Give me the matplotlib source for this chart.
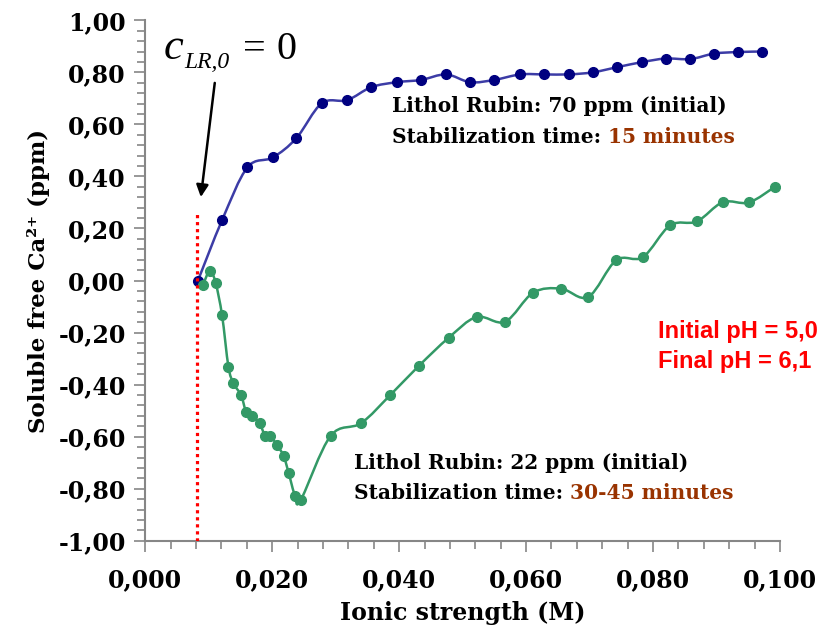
import numpy as np
import matplotlib
matplotlib.use("Agg")
from matplotlib import pyplot as plt
from matplotlib.path import Path
from matplotlib.patches import PathPatch
from matplotlib.ticker import MultipleLocator, FuncFormatter

# Lithol Rubin 70 ppm (blue)
ionic_70 = [0.0083, 0.0121, 0.0161, 0.0201, 0.0238, 0.0278, 0.0318, 0.0356, 0.0396,
            0.0435, 0.0474, 0.0512, 0.0550, 0.0591, 0.0629, 0.0667, 0.0705, 0.0744,
            0.0782, 0.0820, 0.0859, 0.0896, 0.0934, 0.0972]
ca_70 = [0.000, 0.232, 0.435, 0.473, 0.547, 0.681, 0.693, 0.743, 0.762, 0.771, 0.792,
         0.762, 0.771, 0.792, 0.792, 0.792, 0.800, 0.820, 0.839, 0.853, 0.851, 0.872,
         0.878, 0.880]

# Lithol Rubin 22 ppm (green)
ionic_22 = [0.0091, 0.0102, 0.0111, 0.0121, 0.0131, 0.0139, 0.0151, 0.0159, 0.0168,
            0.0180, 0.0189, 0.0197, 0.0207, 0.0218, 0.0226, 0.0236, 0.0245, 0.0292,
            0.0340, 0.0386, 0.0431, 0.0478, 0.0522, 0.0567, 0.0611, 0.0655, 0.0698,
            0.0742, 0.0784, 0.0827, 0.0869, 0.0910, 0.0951, 0.0992]
ca_22 = [-0.016, 0.038, -0.011, -0.134, -0.331, -0.395, -0.441, -0.505, -0.519, -0.548,
         -0.597, -0.597, -0.630, -0.674, -0.740, -0.827, -0.843, -0.597, -0.548, -0.440,
         -0.328, -0.220, -0.140, -0.158, -0.047, -0.031, -0.063, 0.078, 0.090, 0.212,
         0.227, 0.301, 0.300, 0.360]

c_lr0 = 0.0082

plt.rcParams['font.family'] = 'DejaVu Serif'
plt.rcParams['font.weight'] = 'bold'


def smooth_path(xs, ys):
    # excel-like smoothed line: cubic bezier with catmull-rom tangents
    p = np.column_stack([xs, ys])
    n = len(p)
    verts = [p[0]]
    codes = [Path.MOVETO]
    for i in range(n - 1):
        p0 = p[i - 1] if i > 0 else p[i]
        p3 = p[i + 2] if i + 2 < n else p[i + 1]
        c1 = p[i] + (p[i + 1] - p0) / 6.0
        c2 = p[i + 1] - (p3 - p[i]) / 6.0
        verts += [c1, c2, p[i + 1]]
        codes += [Path.CURVE4] * 3
    return Path(verts, codes)


fig = plt.figure(figsize=(8.35, 6.34), dpi=100)
ax = fig.add_axes([0.174, 0.147, 0.760, 0.821])

ax.add_patch(PathPatch(smooth_path(ionic_70, ca_70), fill=False, edgecolor='#3c3ca6', lw=1.8, zorder=2))
ax.plot(ionic_70, ca_70, 'o', color='#000080', ms=7, zorder=3)
ax.add_patch(PathPatch(smooth_path(ionic_22, ca_22), fill=False, edgecolor='#339966', lw=1.8, zorder=2))
ax.plot(ionic_22, ca_22, 'o', color='#339966', ms=7, zorder=3)

ax.plot([c_lr0, c_lr0], [-1.0, 0.26], ls=(0, (1, 1.2)), color='#ff0000', lw=2.3, zorder=4)

ax.set_xlim(0, 0.1)
ax.set_ylim(-1.0, 1.0)
ax.xaxis.set_major_locator(MultipleLocator(0.02))
ax.xaxis.set_minor_locator(MultipleLocator(0.004))
ax.yaxis.set_major_locator(MultipleLocator(0.2))
ax.yaxis.set_minor_locator(MultipleLocator(0.04))
ax.xaxis.set_major_formatter(FuncFormatter(lambda v, p: f"{v:.3f}".replace('.', ',')))
ax.yaxis.set_major_formatter(FuncFormatter(lambda v, p: f"{v:.2f}".replace('.', ',').replace('-0,00', '0,00')))

for s in ['top', 'right']:
    ax.spines[s].set_visible(False)
for s in ['left', 'bottom']:
    ax.spines[s].set_color('#868686')
    ax.spines[s].set_linewidth(1.5)
ax.tick_params(which='both', direction='out', color='#868686', width=1.2)
ax.tick_params(which='major', length=8, labelsize=17, pad=6)
ax.tick_params(which='minor', length=6)
ax.tick_params(axis='x', pad=12)

ax.set_xlabel('Ionic strength (M)', fontsize=17, fontweight='bold', labelpad=6)
ax.set_ylabel('Soluble free Ca²⁺ (ppm)', fontsize=16.5, fontweight='bold',
              family=['DejaVu Serif', 'DejaVu Sans'], labelpad=6)

# annotations
t1 = ax.text(0.0389, 0.67, 'Lithol Rubin: 70 ppm (initial)', fontsize=14.5, va='center')
t2 = ax.text(0.0389, 0.515, 'Stabilization time: ', fontsize=14.5, va='bottom')
ax.annotate('15 minutes', xy=(1, 0), xycoords=t2, va='bottom', fontsize=14.5, color='#993300')
t3 = ax.text(0.0329, -0.70, 'Lithol Rubin: 22 ppm (initial)', fontsize=14.5, va='center')
t4 = ax.text(0.0329, -0.855, 'Stabilization time: ', fontsize=14.5, va='bottom')
ax.annotate('30-45 minutes', xy=(1, 0), xycoords=t4, va='bottom', fontsize=14.5, color='#993300')

ax.text(0.0808, -0.195, 'Initial pH = 5,0', ha='left', va='center',
        fontsize=17, family='Liberation Sans', fontweight='bold', color='#ff0000')
ax.text(0.0808, -0.31, 'Final pH = 6,1', ha='left', va='center',
        fontsize=17, family='Liberation Sans', fontweight='bold', color='#ff0000')

# c_LR,0 = 0 label, built from pieces (times-like, not bold)
serif = dict(family='Liberation Serif', fontweight='normal', va='baseline')
fig.text(164 / 835, 1 - 59 / 634, 'c', fontsize=32, style='italic', **serif)
fig.text(184 / 835, 1 - 68 / 634, 'LR,0', fontsize=17, style='italic', **serif)
fig.text(243 / 835, 1 - 59 / 634, '=', fontsize=29, **serif)
fig.text(277 / 835, 1 - 59 / 634, '0', fontsize=29, **serif)
ax.annotate('', xy=(0.0087, 0.31), xytext=(0.0110, 0.77),
            arrowprops=dict(arrowstyle='-|>', color='black', lw=1.8, mutation_scale=18))

fig.savefig('out.png', dpi=100)
